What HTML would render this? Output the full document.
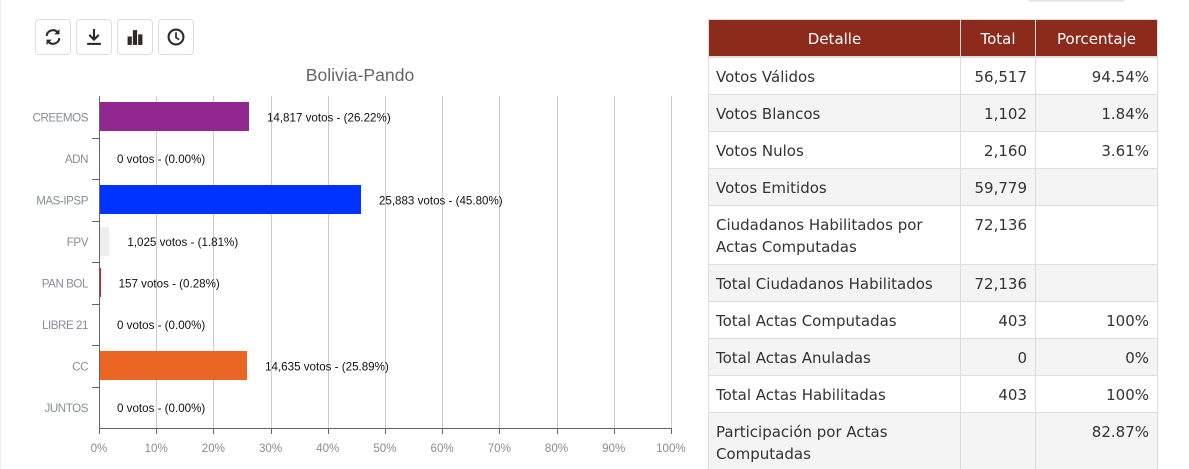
<!DOCTYPE html>
<html lang="es">
<head>
<meta charset="utf-8">
<title>Bolivia-Pando</title>
<style>
html,body{margin:0;padding:0;background:#fff;width:1189px;height:469px;overflow:hidden}
body{position:relative;font-family:"Liberation Sans",sans-serif}
.edge{position:absolute;left:0;top:0;width:1px;height:469px;background:#eee}
.topchip{position:absolute;left:1029px;top:-3px;width:95px;height:3px;box-shadow:0 1px 2px rgba(0,0,0,.18);background:#fff}
.tool{position:absolute;top:19px;width:36px;height:36px;box-sizing:border-box;border:1px solid #ddd;border-radius:4px;background:#fff;padding:0;cursor:pointer}
.tool svg{position:absolute;left:8px;top:8px;width:18px;height:18px}
#chart{position:absolute;left:0;top:0}
table{position:absolute;left:708px;top:19px;width:449px;border-collapse:collapse;table-layout:fixed;font-family:"DejaVu Sans","Liberation Sans",sans-serif;font-size:15px;line-height:22px;color:#333}
th,td{border:1px solid #ddd;padding:8px 8px 6px 7px;vertical-align:top;font-weight:normal;box-sizing:border-box}
th{background:#8c2b1c;color:#fff;text-align:center;height:36px;padding:8px 7px 6px;border-bottom:2px solid #ddd;border-color:#ddd}
td.n{text-align:right}
tr.alt td{background:#f4f4f4}
tr.r td{height:37px}
</style>
</head>
<body>
<div class="edge"></div>
<div class="topchip"></div>

<button class="tool" style="left:35px" aria-label="Actualizar">
<svg viewBox="0 0 17 17"><path d="M2.5 7.5A6 6 0 0 1 13 4.2M14.5 9.5A6 6 0 0 1 4 12.8" fill="none" stroke="#2f2a2a" stroke-width="2"/><path d="M14.6 1v5h-5zM2.4 16v-5h5z" fill="#2f2a2a"/></svg>
</button>
<button class="tool" style="left:76px" aria-label="Descargar">
<svg viewBox="0 0 17 17"><path d="M8.5 1v9M4 6.5l4.5 4.5 4.5-4.5" fill="none" stroke="#2f2a2a" stroke-width="2"/><rect x="2" y="14" width="13" height="2" fill="#2f2a2a"/></svg>
</button>
<button class="tool" style="left:117px" aria-label="Gráfico">
<svg viewBox="0 0 17 17"><rect x="1.5" y="8" width="4" height="8" fill="#2f2a2a"/><rect x="6.5" y="2" width="4" height="14" fill="#2f2a2a"/><rect x="11.5" y="6" width="4" height="10" fill="#2f2a2a"/></svg>
</button>
<button class="tool" style="left:158px" aria-label="Historial">
<svg viewBox="0 0 17 17"><circle cx="8.5" cy="8.5" r="7" fill="none" stroke="#2f2a2a" stroke-width="2"/><path d="M8.5 4v5l3 2" fill="none" stroke="#2f2a2a" stroke-width="1.6"/></svg>
</button>

<svg id="chart" width="700" height="469"></svg>

<table>
<colgroup><col style="width:252px"><col style="width:75px"><col style="width:122px"></colgroup>
<thead>
<tr><th>Detalle</th><th>Total</th><th>Porcentaje</th></tr>
</thead>
<tbody>
<tr class="r"><td>Votos Válidos</td><td class="n">56,517</td><td class="n">94.54%</td></tr>
<tr class="r alt"><td>Votos Blancos</td><td class="n">1,102</td><td class="n">1.84%</td></tr>
<tr class="r"><td>Votos Nulos</td><td class="n">2,160</td><td class="n">3.61%</td></tr>
<tr class="r alt"><td>Votos Emitidos</td><td class="n">59,779</td><td class="n"></td></tr>
<tr><td>Ciudadanos Habilitados por Actas Computadas</td><td class="n">72,136</td><td class="n"></td></tr>
<tr class="r alt"><td>Total Ciudadanos Habilitados</td><td class="n">72,136</td><td class="n"></td></tr>
<tr class="r"><td>Total Actas Computadas</td><td class="n">403</td><td class="n">100%</td></tr>
<tr class="r alt"><td>Total Actas Anuladas</td><td class="n">0</td><td class="n">0%</td></tr>
<tr class="r"><td>Total Actas Habilitadas</td><td class="n">403</td><td class="n">100%</td></tr>
<tr class="alt"><td>Participación por Actas Computadas</td><td class="n"></td><td class="n">82.87%</td></tr>
</tbody>
</table>

<script>
const categories = ["CREEMOS","ADN","MAS-IPSP","FPV","PAN BOL","LIBRE 21","CC","JUNTOS"];
const votes = [14817,0,25883,1025,157,0,14635,0];
const percents = [26.22,0,45.80,1.81,0.28,0,25.89,0];
const barColors = ["#92278f","#000000","#0033ff","#eeeeee","#e8112d","#000000","#eb6625","#000000"];
const xTicks = [0,10,20,30,40,50,60,70,80,90,100];

const svgNS = "http://www.w3.org/2000/svg";
const svg = document.getElementById("chart");
const plot = {left:99,right:670.9,top:96,bottom:428};
const xScale = p => plot.left + p * (plot.right - plot.left) / 100;
const band = (plot.bottom - plot.top) / categories.length;
const yBand = i => plot.top + i * band;
function make(tag, attrs, text){
  const el = document.createElementNS(svgNS, tag);
  for (const k in attrs) el.setAttribute(k, attrs[k]);
  if (text !== undefined) el.textContent = text;
  svg.appendChild(el);
  return el;
}
const FONT = '"Liberation Sans",sans-serif';

const title = make("text",{x:360,y:81,"text-anchor":"middle","font-family":FONT,"font-size":17.6,fill:"#666"},"Bolivia-Pando");



xTicks.forEach(t => {
  const x = Math.round(xScale(t)) + 0.5;
  if (t > 0) {
    const grid = make("line",{x1:x,x2:x,y1:plot.top,y2:plot.bottom,stroke:"#ccc","stroke-width":1});
    
    
  }
  const tick = make("line",{x1:x,x2:x,y1:plot.bottom,y2:plot.bottom+6,stroke:"#666","stroke-width":1});
  
  
  const label = make("text",{x:xScale(t),y:452,"text-anchor":"middle","font-family":FONT,"font-size":11.6,fill:"#868e96"},t + "%");
  
  
});

categories.forEach((c,i) => {
  const cy = yBand(i) + band / 2;
  const barEnd = Math.round(xScale(percents[i]));
  const bar = make("rect",{x:xScale(0)+1,y:Math.round(cy-14.5),width:Math.max(0,barEnd-xScale(0)-1),height:29,fill:barColors[i]});
  
  
  const label = make("text",{x:88,y:cy+4.5,"text-anchor":"end","font-family":FONT,"font-size":11.6,"letter-spacing":"-0.45",fill:"#868e96"},c);
  
  
  const value = make("text",{x:xScale(percents[i])+18,y:cy+4.5,"font-family":FONT,"font-size":11.6,fill:"#111"},
    votes[i].toLocaleString("en-US") + " votos - (" + percents[i].toFixed(2) + "%)");
  
  
});

for (let i = 1; i < categories.length; i++) {
  const y = Math.round(yBand(i)) + 0.5;
  const tick = make("line",{x1:92,x2:plot.left,y1:y,y2:y,stroke:"#666","stroke-width":1});
  
  
}
const yAxis = make("line",{x1:plot.left+0.5,x2:plot.left+0.5,y1:plot.top,y2:plot.bottom+6,stroke:"#666","stroke-width":1});


const xAxis = make("line",{x1:plot.left,x2:Math.round(plot.right)+1,y1:plot.bottom+0.5,y2:plot.bottom+0.5,stroke:"#666","stroke-width":1});


</script>
</body>
</html>
